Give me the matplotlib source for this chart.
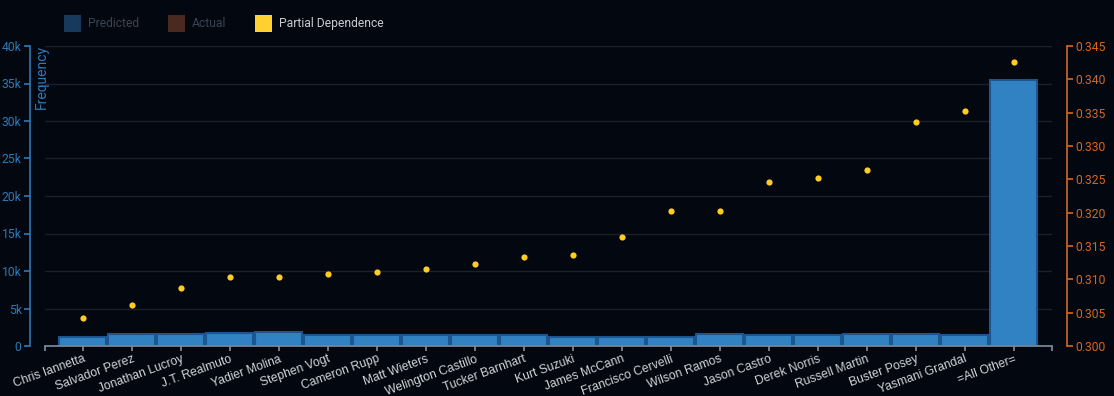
import matplotlib
matplotlib.use("Agg")
import matplotlib.pyplot as plt
from matplotlib.patches import Rectangle

# data
players = ["Chris Iannetta", "Salvador Perez", "Jonathan Lucroy", "J.T. Realmuto",
           "Yadier Molina", "Stephen Vogt", "Cameron Rupp", "Matt Wieters",
           "Welington Castillo", "Tucker Barnhart", "Kurt Suzuki", "James McCann",
           "Francisco Cervelli", "Wilson Ramos", "Jason Castro", "Derek Norris",
           "Russell Martin", "Buster Posey", "Yasmani Grandal", "=All Other="]
frequency = [1200, 1640, 1600, 1730, 1870, 1410, 1410, 1460, 1460, 1410,
             1250, 1200, 1240, 1550, 1500, 1500, 1640, 1640, 1500, 35450]
partial_dep = [0.30425, 0.3061, 0.30875, 0.3104, 0.3103, 0.3108, 0.3111, 0.3116,
               0.3123, 0.3134, 0.3137, 0.3164, 0.3203, 0.3203, 0.3246, 0.3252,
               0.3264, 0.3336, 0.3353, 0.3426]
left_ticks = [0, 5000, 10000, 15000, 20000, 25000, 30000, 35000, 40000]
left_labels = ["0", "5k", "10k", "15k", "20k", "25k", "30k", "35k", "40k"]
right_ticks = [0.300, 0.305, 0.310, 0.315, 0.320, 0.325, 0.330, 0.335, 0.340, 0.345]

bg = "#03070f"
blue_axis = "#2e7ab8"
orange = "#d8651e"
grid_c = "#1a212b"

plt.rcParams['font.family'] = ['Roboto', 'DejaVu Sans']

# 1 px = 0.72 pt at dpi 100
PX = 0.72

fig = plt.figure(figsize=(11.14, 3.96), dpi=100, facecolor=bg)
ax = fig.add_axes([44.6 / 1114, 1 - 346 / 396, (1052 - 44.6) / 1114, 300 / 396])
ax.set_facecolor(bg)

x = list(range(len(players)))
ax.bar(x, frequency, width=0.96, color="#3182c2", edgecolor="#1d5590", linewidth=1.5, zorder=2)
ax.set_xlim(-0.78, len(players) - 1 + 0.78)
ax.set_ylim(0, 40000)

for t in left_ticks[1:]:
    ax.axhline(t, color=grid_c, linewidth=1, zorder=1)

ax.set_yticks(left_ticks)
ax.set_yticklabels(left_labels)
ax.tick_params(axis="y", colors=blue_axis, labelsize=8.7, length=6 * PX, width=1.2, pad=2 * PX)
ax.spines["left"].set_position(("outward", 15 * PX))
ax.spines["left"].set_color(blue_axis)
ax.spines["left"].set_linewidth(1.2)
ax.spines["top"].set_visible(False)
ax.spines["right"].set_visible(False)
ax.spines["bottom"].set_color("#7f8fa3")
ax.spines["bottom"].set_linewidth(1.2)

ax.set_xticks(x)
ax.set_xticks([-0.78, len(players) - 1 + 0.78], minor=True)
ax.set_xticklabels(players, rotation=20, ha="right", va="top", rotation_mode="anchor",
                   family=["Liberation Sans", "DejaVu Sans"], fontsize=8.7)
ax.tick_params(axis="x", which="both", colors="#7f8fa3", length=5 * PX, width=1.2, pad=1.5)
for lbl in ax.get_xticklabels():
    lbl.set_color("#d0d4da")

fig.text(35 / 1114, 1 - 45 / 396, "Frequency", rotation=90, ha="left", va="top",
         color=blue_axis, fontsize=10)

ax2 = ax.twinx()
ax2.set_ylim(0.300, 0.345)
ax2.scatter(x, partial_dep, s=20, color="#ffcc22", zorder=3, linewidths=0)
ax2.set_yticks(right_ticks)
ax2.set_yticklabels([f"{v:.3f}" for v in right_ticks])
ax2.tick_params(axis="y", colors=orange, labelsize=8.7, length=6 * PX, width=1.2, pad=2 * PX)
ax2.spines["right"].set_position(("outward", 15 * PX))
ax2.spines["right"].set_color(orange)
ax2.spines["right"].set_linewidth(1.2)
for s in ["top", "left", "bottom"]:
    ax2.spines[s].set_visible(False)

# legend drawn in figure pixels
legend_items = [("Predicted", "#173a5c", "#3a4552", 64),
                ("Actual", "#4a2a20", "#3a4552", 168),
                ("Partial Dependence", "#ffd030", "#c8ccd2", 255)]
for name, sq, tc, px in legend_items:
    fig.patches.append(Rectangle((px / 1114, 1 - 32 / 396), 17 / 1114, 17 / 396,
                                 transform=fig.transFigure, facecolor=sq, edgecolor="none"))
    fig.text((px + 24) / 1114, 1 - 23.5 / 396, name, color=tc, fontsize=8.7, va="center", ha="left")

fig.savefig("out.png", dpi=100, facecolor=bg)
